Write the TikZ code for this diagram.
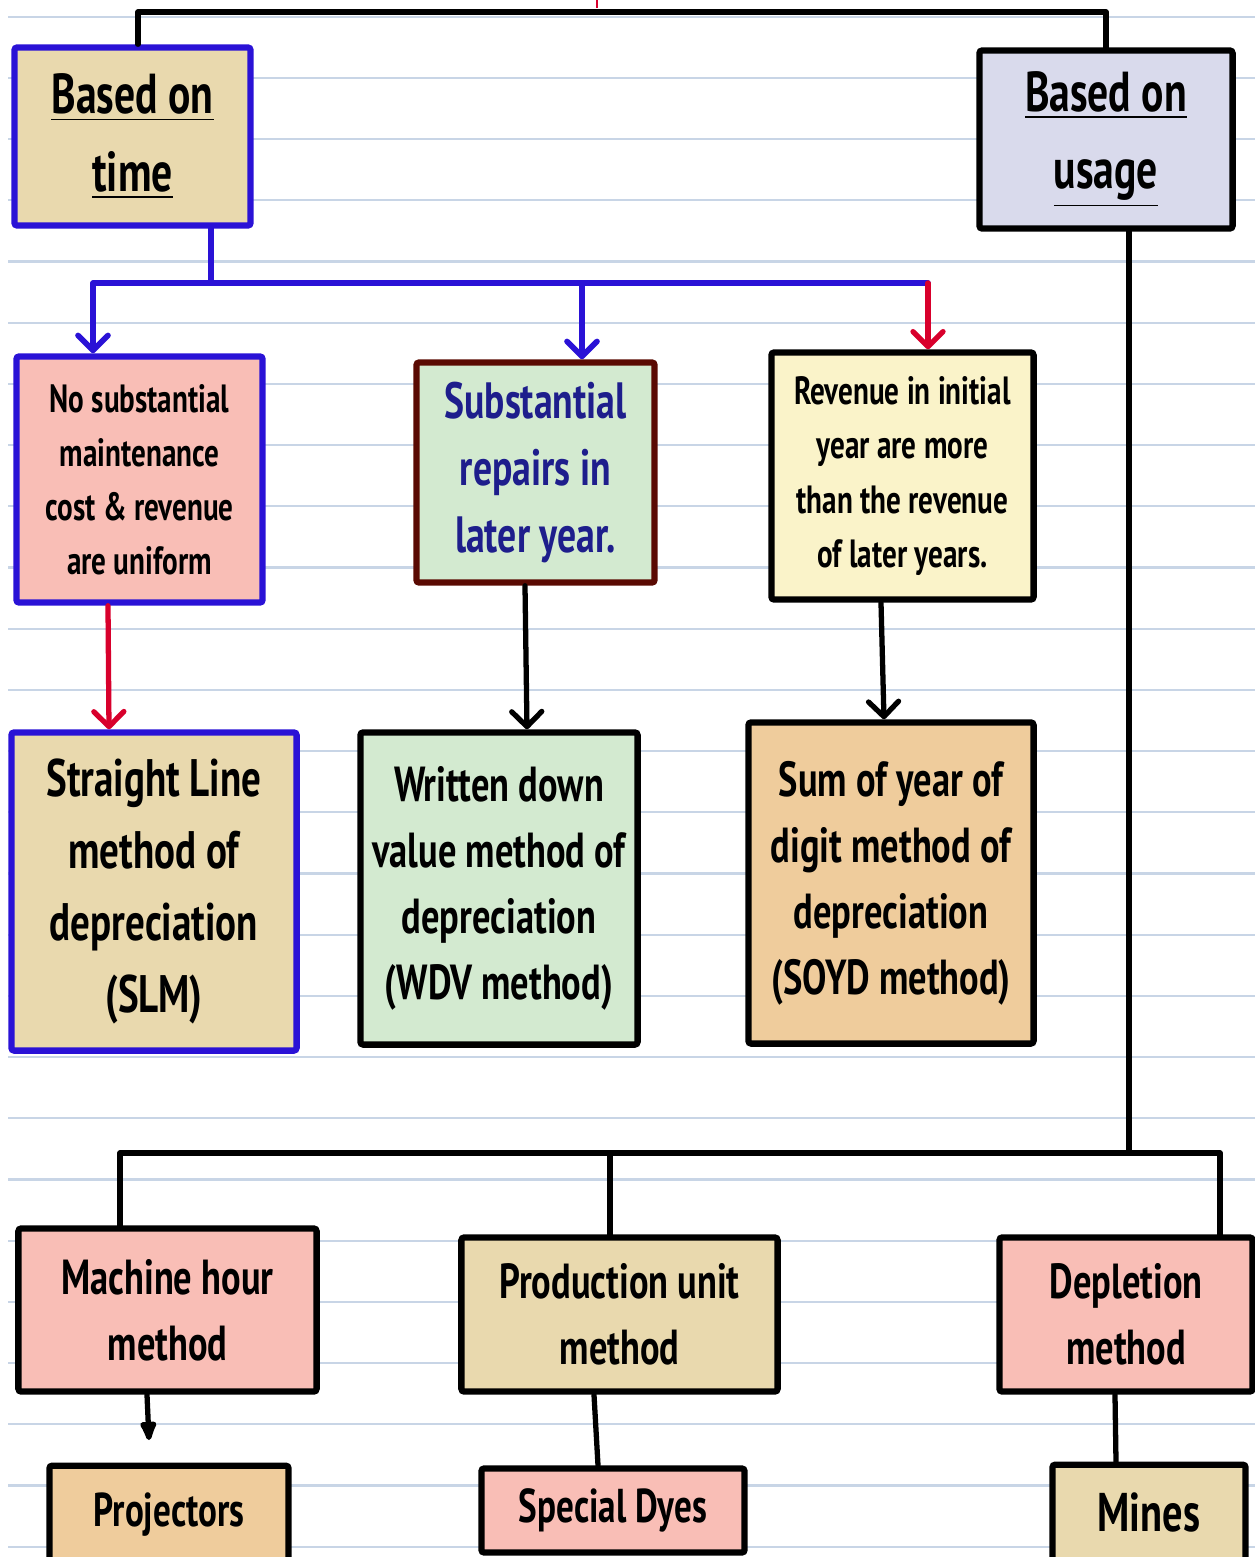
\documentclass[tikz,border=0pt]{standalone}
\usepackage{fontspec}
\setmainfont{PT Sans}[FakeStretch=0.74]
\usetikzlibrary{arrows.meta, calc}
\definecolor{paperBeige}{HTML}{E9D9AE}
\definecolor{paperLilac}{HTML}{D9DAEC}
\definecolor{paperPink}{HTML}{F9BEB6}
\definecolor{paperMint}{HTML}{D3EAD0}
\definecolor{paperCream}{HTML}{FAF3C9}
\definecolor{paperTan}{HTML}{EFCC9C}
\definecolor{inkBlue}{HTML}{2A12D6}
\definecolor{inkRed}{HTML}{D8002C}
\definecolor{inkMaroon}{HTML}{5A0A02}
\definecolor{inkNavy}{HTML}{1E1E8C}
\definecolor{ruleLine}{HTML}{C8D5E6}

\begin{document}
\begin{tikzpicture}[
  x=0.01cm, y=-0.01cm,
  every node/.style={align=center, inner sep=2pt},
  box/.style={
    rectangle, draw=black, line width=1.8pt, rounded corners=0.8pt
  },
  headText/.style={font=\bfseries\fontsize{16}{22}\selectfont},
  smallText/.style={font=\bfseries\fontsize{11.2}{15.4}\selectfont},
  midText/.style={font=\bfseries\fontsize{14}{18.8}\selectfont},
  wire/.style={draw=black, line width=1.5pt, line cap=round, line join=round},
  blueWire/.style={draw=inkBlue, line width=1.6pt},
  arr/.style={-{Straight Barb[length=1.5mm, width=3mm, round]}},
  blobArr/.style={-{Latex[length=2.6mm, width=2mm, round]}}
]
\useasboundingbox (0,0) rectangle (1255,1557);
\clip (0,0) rectangle (1255,1557);

% --- ruled paper ---
\foreach \k in {0,...,25}
  \draw[ruleLine, line width=0.6pt] (8,{16.7+61.2*\k}) -- (1255,{16.7+61.2*\k});

% --- top level ---
\node[box, draw=inkBlue, fill=paperBeige, minimum width=2.36cm, minimum height=1.78cm, headText] (time) at (132.5,136.5) {\underline{Based on}\\\underline{time}};
\node[box, fill=paperLilac, minimum width=2.53cm, minimum height=1.78cm, headText] (usage) at (1106,139.5) {\underline{Based on}\\\underline{usage}};

% --- conditions ---
\node[box, draw=inkBlue, fill=paperPink, minimum width=2.46cm, minimum height=2.46cm, smallText] (nosub) at (139.5,479.5) {No substantial\\maintenance\\cost \& revenue\\are uniform};
\node[box, draw=inkMaroon, fill=paperMint, minimum width=2.38cm, minimum height=2.20cm, text=inkNavy, font=\bfseries\fontsize{14.5}{19}\selectfont] (subst) at (535.5,472.5) {Substantial\\repairs in\\later year.};
\node[box, fill=paperCream, minimum width=2.62cm, minimum height=2.47cm, smallText] (revenue) at (902.5,476) {Revenue in initial\\year are more\\than the revenue\\of later years.};

% --- methods (time) ---
\node[box, draw=inkBlue, fill=paperBeige, minimum width=2.85cm, minimum height=3.18cm, font=\bfseries\fontsize{15}{20.5}\selectfont] (slm) at (154,891.5) {Straight Line\\method of\\depreciation\\(SLM)};
\node[box, fill=paperMint, minimum width=2.77cm, minimum height=3.12cm, midText] (wdv) at (499,888.5) {Written down\\value method of\\depreciation\\(WDV method)};
\node[box, fill=paperTan, minimum width=2.85cm, minimum height=3.21cm, midText] (soyd) at (891,883) {Sum of year of\\digit method of\\depreciation\\(SOYD method)};

% --- methods (usage) ---
\node[box, fill=paperPink, minimum width=2.98cm, minimum height=1.63cm, midText] (machine) at (167.5,1310) {Machine hour\\method};
\node[box, fill=paperBeige, minimum width=3.16cm, minimum height=1.54cm, midText] (production) at (619.5,1314.5) {Production unit\\method};
\node[box, fill=paperPink, minimum width=2.53cm, minimum height=1.54cm, midText] (depletion) at (1126,1314.5) {Depletion\\method};

% --- examples ---
\node[box, fill=paperTan, anchor=north, minimum width=2.39cm, text height=0.535cm, text depth=0.93cm, font=\bfseries\fontsize{13.5}{16}\selectfont] (projectors) at (169,1462.5) {Projectors};
\node[box, fill=paperPink, minimum width=2.63cm, minimum height=0.84cm, font=\bfseries\fontsize{13.5}{16}\selectfont] (dyes) at (613,1510.5) {Special Dyes};
\node[box, fill=paperBeige, anchor=north, minimum width=1.93cm, text height=0.6cm, text depth=0.9cm, font=\bfseries\fontsize{15.5}{18}\selectfont] (mines) at (1149,1461.5) {Mines};

% --- top bracket ---
\coordinate (topBar) at (597,12);
\draw[wire] ($(time.north)+(5.5,0)$) |- (topBar) -| (usage.north);
\draw[inkRed, line width=0.5pt] ($(topBar)+(0,-4)$) -- ++(0,-8);

% --- time branch ---
\coordinate (timeBar) at (211,283);
\coordinate (revTop) at ($(revenue.north)+(25.5,0)$);
\draw[wire, blueWire] ($(time.south)+(78.5,0)$) -- (timeBar);
\draw[wire, blueWire, arr] (timeBar) -| ($(nosub.north)+(-46.5,0)$);
\draw[wire, blueWire, arr] (timeBar) -| ($(subst.north)+(46.5,0)$);
\draw[wire, blueWire] (timeBar) -- (timeBar -| revTop);
\draw[wire, arr, draw=inkRed] (timeBar -| revTop) -- (revTop);

\draw[wire, arr, draw=inkRed] ($(nosub.south)+(-31.5,0)$) -- ($(slm.north)+(-45,0)$);
\draw[wire, arr] ($(subst.south)+(-10.5,0)$) -- ($(wdv.north)+(28,0)$);
\draw[wire, arr] ($(revenue.south)+(-21.5,0)$) -- ($(soyd.north)+(-7,0)$);

% --- usage branch ---
\coordinate (usageBar) at (1129,1153);
\coordinate (prodTop) at ($(production.north)+(-9.5,0)$);
\draw[wire] ($(usage.south)+(23,0)$) -- (usageBar);
\draw[wire] (usageBar) -| ($(machine.north)+(-47.5,0)$);
\draw[wire] (usageBar) -| ($(depletion.north)+(94,0)$);
\draw[wire] (usageBar -| prodTop) -- (prodTop);

\coordinate (machineTip) at (149,1440);
\draw[wire, blobArr] ($(machine.south)+(-20.5,0)$) -- (machineTip);
\draw[wire] ($(production.south)+(-25.5,0)$) -- ($(dyes.north)+(-15,0)$);
\draw[wire] ($(depletion.south)+(-11,0)$) -- ($(mines.north)+(-33,0)$);

\end{tikzpicture}
\end{document}
